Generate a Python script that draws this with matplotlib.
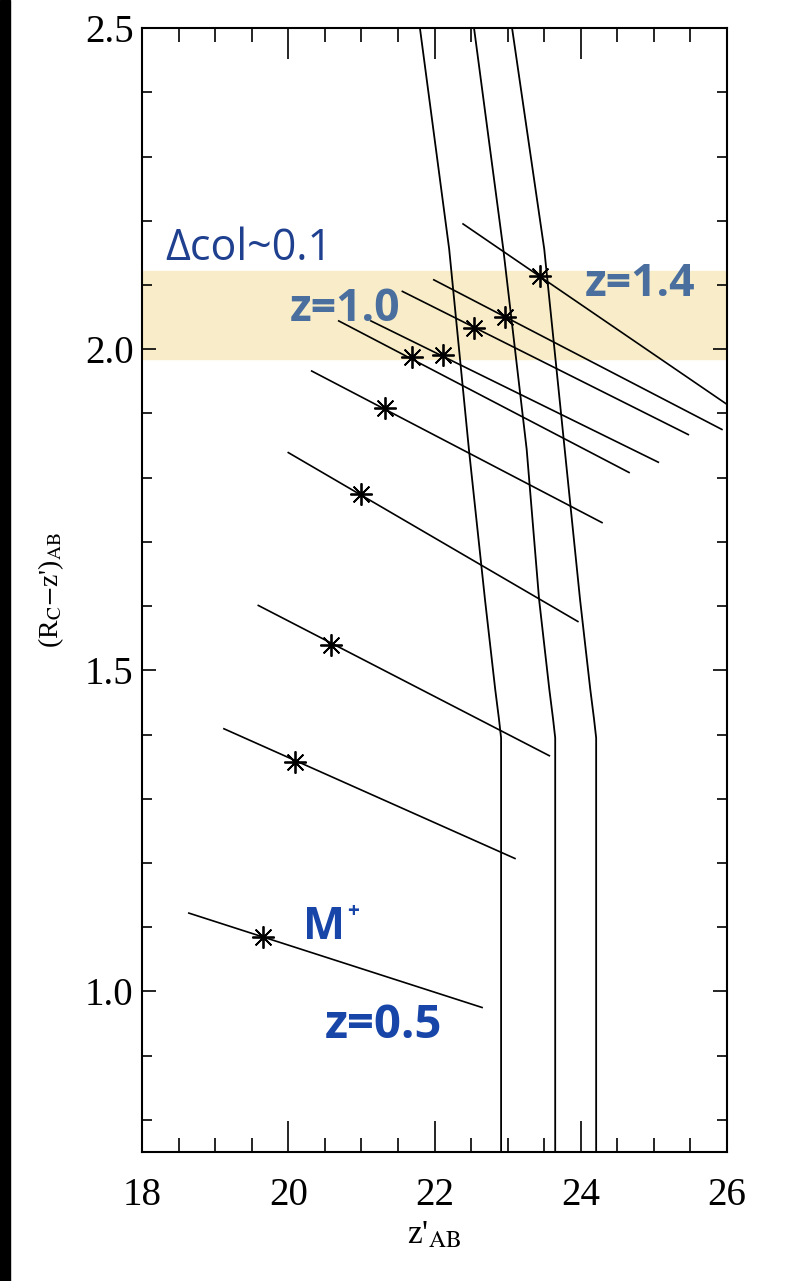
import numpy as np
import matplotlib.pyplot as plt
from matplotlib.patches import Rectangle
from matplotlib.ticker import MultipleLocator

plt.rcParams['font.family'] = ['Liberation Serif', 'DejaVu Serif']
plt.rcParams['mathtext.fontset'] = 'stix'

# M* points (one per redshift) and the tilted colour-magnitude segments
star_x = [19.65, 20.09, 20.58, 20.99, 21.32, 21.69, 22.12, 22.54, 22.97, 23.44]
star_y = [1.084, 1.357, 1.540, 1.774, 1.908, 1.988, 1.991, 2.033, 2.050, 2.114]
seg_x0 = [18.64, 19.12, 19.59, 20.00, 20.32, 20.69, 21.13, 21.56, 21.99, 22.39]
seg_y0 = [1.122, 1.409, 1.601, 1.839, 1.966, 2.044, 2.044, 2.090, 2.108, 2.195]
seg_x1 = [22.65, 23.10, 23.57, 23.96, 24.29, 24.66, 25.06, 25.47, 25.93, 26.00]
seg_y1 = [0.975, 1.207, 1.367, 1.576, 1.730, 1.808, 1.824, 1.867, 1.875, 1.914]

# three limit curves
lim_y = [2.50, 2.156, 1.844, 1.610, 1.530, 1.470, 1.425, 1.395, 0.75]
lim1_x = [21.80, 22.20, 22.47, 22.69, 22.77, 22.83, 22.88, 22.91, 22.91]
lim2_x = [22.54, 22.94, 23.26, 23.43, 23.51, 23.57, 23.62, 23.65, 23.65]
lim3_x = [23.06, 23.50, 23.78, 23.99, 24.07, 24.13, 24.18, 24.21, 24.21]

band = (1.984, 2.122)

fig = plt.figure(figsize=(7.86, 12.81), dpi=100)
ax = fig.add_axes([0.1807, 0.1007, 0.7443, 0.8774])

ax.axhspan(band[0], band[1], color='#f8edc8', zorder=0)

for x0, y0, x1, y1 in zip(seg_x0, seg_y0, seg_x1, seg_y1):
    ax.plot([x0, x1], [y0, y1], color='black', lw=1.2)
for lx in (lim1_x, lim2_x, lim3_x):
    ax.plot(lx, lim_y, color='black', lw=1.3)
ax.plot(star_x, star_y, ls='none', marker=(8, 2, 0), ms=16, mec='black', mew=1.3)

ax.set_xlim(18, 26)
ax.set_ylim(0.75, 2.5)
ax.xaxis.set_major_locator(MultipleLocator(2))
ax.xaxis.set_minor_locator(MultipleLocator(0.5))
ax.yaxis.set_major_locator(MultipleLocator(0.5))
ax.yaxis.set_minor_locator(MultipleLocator(0.1))
ax.tick_params(which='both', direction='in', top=True, right=True, width=1.2)
ax.tick_params(axis='x', which='major', length=22, labelsize=28, pad=18)
ax.tick_params(axis='x', which='minor', length=10)
ax.tick_params(axis='y', which='major', length=10, labelsize=28, pad=6)
ax.tick_params(axis='y', which='minor', length=7)
ax.set_yticks([1.0, 1.5, 2.0, 2.5])
ax.set_yticklabels(['1.0', '1.5', '2.0', '2.5'])
for s in ax.spines.values():
    s.set_linewidth(1.5)

ax.set_xlabel(r"z'$_{\rm AB}$", fontsize=24, labelpad=4)
ax.set_ylabel(r"(R$_{\rm C}$$-$z')$_{\rm AB}$", fontsize=20, labelpad=14)

ann = dict(family=['Open Sans', 'DejaVu Sans'], fontweight='bold')
ax.text(18.32, 2.156, 'Δcol~0.1', color='#1f3f8f', fontsize=31,
        family=['Open Sans', 'DejaVu Sans'], va='center', ha='left')
ax.text(20.02, 2.062, 'z=1.0', color='#4a6e9e', fontsize=32, va='center', ha='left', **ann)
ax.text(24.06, 2.10, 'z=1.4', color='#4a6e9e', fontsize=32, va='center', ha='left', **ann)
ax.text(20.20, 1.10, 'M', color='#1745a8', fontsize=32, va='center', ha='left', **ann)
ax.text(20.80, 1.125, '+', color='#1745a8', fontsize=15, va='center', ha='left', **ann)
ax.text(20.50, 0.947, 'z=0.5', color='#1745a8', fontsize=34, va='center', ha='left', **ann)

fig.add_artist(Rectangle((0, 0), 10 / 786, 1, transform=fig.transFigure,
                         color='black', zorder=-1))

fig.savefig('out.png', dpi=100)
